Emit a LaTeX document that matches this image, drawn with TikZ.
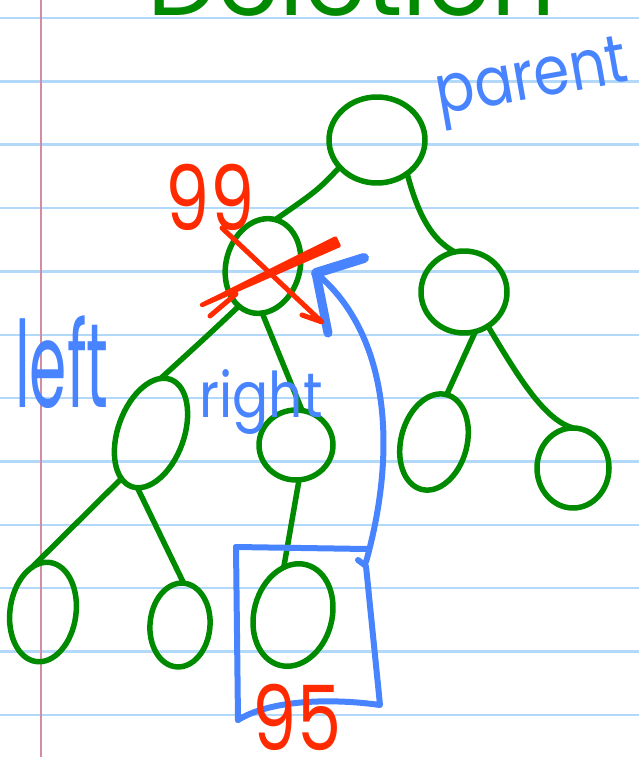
\documentclass[tikz,border=0pt]{standalone}
\usepackage{fontspec}
\setmainfont{Poppins}
\usetikzlibrary{shapes.geometric}
\definecolor{inkgreen}{RGB}{0,138,0}
\definecolor{inkblue}{RGB}{72,132,255}
\definecolor{inkred}{RGB}{255,42,0}
\definecolor{ruleblue}{RGB}{178,216,250}
\definecolor{marginred}{RGB}{212,140,160}
\begin{document}
\begin{tikzpicture}[x=1pt,y=-1pt,line cap=round,line join=round,
  rule/.style={draw=ruleblue,line width=2.5pt},
  margin/.style={draw=marginred,line width=2pt},
  vert/.style={ellipse,draw=inkgreen,line width=5.5pt,inner sep=0pt,outer sep=0pt},
  twig/.style={draw=inkgreen,line width=5.5pt},
  pen/.style={draw=inkblue,line width=6pt},
  redpen/.style={draw=inkred,line width=5pt},
  bluetext/.style={text=inkblue,inner sep=0pt},
  redtext/.style={text=inkred,inner sep=0pt,font=\fontsize{90}{90}\selectfont,xscale=0.78}]
\useasboundingbox (0,0) rectangle (639,757);
% ruled notebook paper
\foreach \k in {0,...,11} \draw[rule] (0,18+63.35*\k) -- (639,18+63.35*\k);
\draw[margin] (41,0) -- (41,757);

% heading, running off the top of the page
\node[text=inkgreen,anchor=base west,inner sep=0pt,font=\fontsize{100}{100}\selectfont] (title) at (147,16) {Deletion};

% tree vertices
\node[vert,minimum width=96pt,minimum height=86pt] (root) at (377,140) {};
\node[vert,minimum width=74pt,minimum height=96pt,rotate=-15] (del) at (263,266) {};
\node[vert,minimum width=86pt,minimum height=82pt] (rc) at (464,292) {};
\node[vert,minimum width=66pt,minimum height=114pt,rotate=-20] (L) at (151,433) {};
\node[vert,minimum width=74pt,minimum height=70pt] (R) at (296,445) {};
\node[vert,minimum width=66pt,minimum height=98pt,rotate=-15] (rl) at (434,442) {};
\node[vert,minimum width=72pt,minimum height=80pt] (rr) at (573,468) {};
\node[vert,minimum width=66pt,minimum height=100pt,rotate=-8] (bl) at (43,612) {};
\node[vert,minimum width=60pt,minimum height=84pt,rotate=-5] (bm) at (180,625) {};
\node[vert,minimum width=78pt,minimum height=104pt,rotate=-15] (bn) at (293,615) {};

% tree edges
\draw[twig] (root.216) .. controls (318,190) .. (del.north);
\draw[twig] (root.-48) .. controls (418,215) and (432,240) .. (rc.103);
\draw[twig] (del.254) .. controls (205,338) .. (L.100);
\draw[twig] (del.-76) -- (R.80);
\draw[twig] (L.257) -- (bl.112);
\draw[twig] (L.-84) -- (bm.north);
\draw[twig] (R.-85) -- (bn.116);
\draw[twig] (rc.-74) -- (rl.north);
\draw[twig] (rc.-55) .. controls (520,380) and (545,420) .. (rr.north);

% box around the replacement vertex and the arrow moving it up
\coordinate (bx-nw) at (236,547);
\coordinate (bx-ne) at (367,549);
\coordinate (bx-se) at (380,705);
\coordinate (bx-sw) at (238,720);
\coordinate (tip) at (316,273);
\draw[pen] (bx-nw) -- (bx-ne);
\draw[pen] (bx-nw) -- (bx-sw);
\draw[pen] (358,560) -- (366,566) -- (bx-se) .. controls (330,698) and (270,700) .. (bx-sw);
\draw[pen] (366,562) .. controls (400,440) and (385,330) .. (tip);
\draw[pen,line width=10pt] (tip) -- (364,258);
\draw[pen,line width=9pt] (tip) -- (328,333);

% labels
\node[bluetext,rotate=10,anchor=base,xscale=0.85,font=\fontsize{68}{68}\selectfont] (parent) at (535,98) {parent};
\node[bluetext,xscale=0.5,font=\fontsize{120}{120}\selectfont] (left) at (62,362) {left};
\node[bluetext,xscale=0.85,anchor=base,font=\fontsize{63}{63}\selectfont] (right) at (261,417) {right};

% old key crossed out, new key written in
\draw[redpen] (222,228) -- (322,322) -- (302,315);
\filldraw[draw=inkred,fill=inkred,line width=4pt] (338.7,245.6) -- (335.3,238.4) -- (201.8,304.8) -- (202.2,305.2) -- cycle;
\draw[redpen] (236,294) -- (210,316);
\node[redtext] (old) at (210,197) {99};
\node[redtext] (new) at (297,717) {95};
\end{tikzpicture}
\end{document}
